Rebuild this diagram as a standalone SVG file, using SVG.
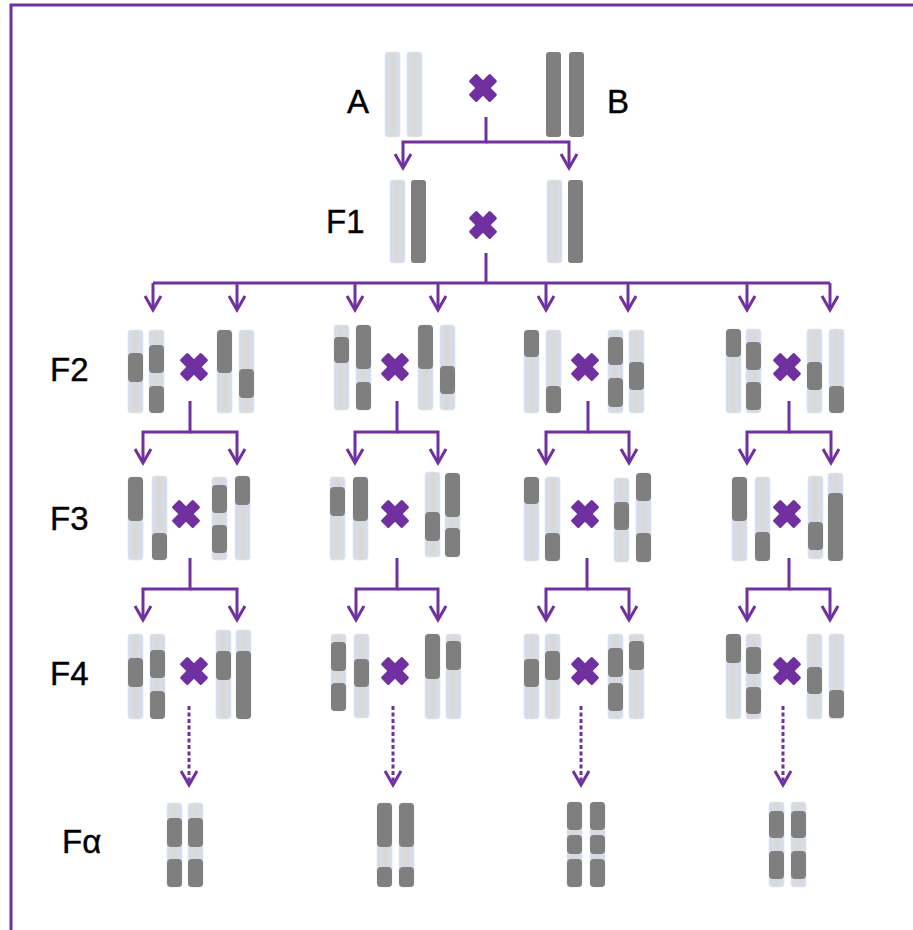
<svg xmlns="http://www.w3.org/2000/svg" width="913" height="930" viewBox="0 0 913 930">
  <defs>
    <linearGradient id="lg" x1="0" y1="0" x2="1" y2="0">
      <stop offset="0" stop-color="#cfdbf2"/>
      <stop offset="0.25" stop-color="#d8dce4"/>
      <stop offset="0.35" stop-color="#d9d9d9"/>
      <stop offset="0.65" stop-color="#d9d9d9"/>
      <stop offset="0.75" stop-color="#d8dce4"/>
      <stop offset="1" stop-color="#cfdbf2"/>
    </linearGradient>
    <marker id="ah" markerUnits="userSpaceOnUse" markerWidth="24" markerHeight="24" viewBox="-18 -12 24 24" refX="0" refY="0" orient="auto">
      <path d="M-14,-8 L0,0 L-14,8" fill="none" stroke="#7030a0" stroke-width="3" stroke-dasharray="none"/>
    </marker>
    <g id="x">
      <rect x="-15" y="-5.5" width="30" height="11" rx="1.5" transform="rotate(45)"/>
      <rect x="-15" y="-5.5" width="30" height="11" rx="1.5" transform="rotate(-45)"/>
    </g>
  </defs>
  <style>
    .c { fill: url(#lg); stroke: #e3e7ee; stroke-width: 0.8; }
    .d { fill: #7f7f7f; }
    .cr { fill: #7030a0; }
    .ln { fill: none; stroke: #7030a0; stroke-width: 3; marker-end: url(#ah); }
    .ln0 { fill: none; stroke: #7030a0; stroke-width: 3; }
    .dt { fill: none; stroke: #7030a0; stroke-width: 3; stroke-dasharray: 4 2.5; marker-end: url(#ah); }
    .lb { font-family: "Liberation Sans", Arial, sans-serif; font-size: 33px; fill: #000; stroke: #000; stroke-width: 0.4; }
  </style>

  <!-- frame -->
  <rect x="11" y="5" width="930" height="950" fill="none" stroke="#7030a0" stroke-width="3"/>

  <!-- generation labels -->
  <g id="labels">
    <text class="lb" x="347" y="113">A</text>
    <text class="lb" x="607" y="113">B</text>
    <text class="lb" x="326" y="233">F1</text>
    <text class="lb" x="50" y="381">F2</text>
    <text class="lb" x="50" y="530">F3</text>
    <text class="lb" x="50" y="685">F4</text>
    <text class="lb" x="62" y="853">Fα</text>
  </g>

  <!-- parents -->
  <g id="parentA">
    <rect class="c" x="385" y="52" width="15" height="85" rx="3"/>
    <rect class="c" x="407" y="52" width="15" height="85" rx="3"/>
  </g>
  <g id="parentB">
    <rect class="d" x="546" y="52" width="15" height="85" rx="3"/>
    <rect class="d" x="569" y="52" width="15" height="85" rx="3"/>
  </g>
  <use href="#x" class="cr" x="483" y="88"/>

  <!-- F1 -->
  <g id="f1">
    <rect class="c" x="390" y="180" width="15" height="83" rx="3"/>
    <rect class="d" x="411" y="180" width="15" height="83" rx="3"/>
    <rect class="c" x="547" y="180" width="15" height="83" rx="3"/>
    <rect class="d" x="568" y="180" width="15" height="83" rx="3"/>
    <use href="#x" class="cr" x="483" y="225"/>
  </g>

  <!-- F2 -->
  <g id="f2-1">
    <rect class="c" x="128" y="330" width="15" height="83" rx="3"/>
    <rect class="d" x="128" y="353" width="15" height="29" rx="4"/>
    <rect class="c" x="149" y="330" width="15" height="83" rx="3"/>
    <rect class="d" x="149" y="345" width="15" height="28" rx="4"/>
    <rect class="d" x="149" y="386" width="15" height="27" rx="4"/>
    <rect class="c" x="217" y="330" width="15" height="83" rx="3"/>
    <rect class="d" x="217" y="330" width="15" height="43" rx="4"/>
    <rect class="c" x="239" y="330" width="15" height="83" rx="3"/>
    <rect class="d" x="239" y="369" width="15" height="29" rx="4"/>
    <use href="#x" class="cr" x="194" y="367"/>
  </g>
  <g id="f2-2">
    <rect class="c" x="334" y="325" width="15" height="85" rx="3"/>
    <rect class="d" x="334" y="337" width="15" height="26" rx="4"/>
    <rect class="c" x="356" y="325" width="15" height="85" rx="3"/>
    <rect class="d" x="356" y="325" width="15" height="44" rx="4"/>
    <rect class="d" x="356" y="382" width="15" height="28" rx="4"/>
    <rect class="c" x="418" y="325" width="15" height="85" rx="3"/>
    <rect class="d" x="418" y="325" width="15" height="44" rx="4"/>
    <rect class="c" x="440" y="325" width="15" height="85" rx="3"/>
    <rect class="d" x="440" y="366" width="15" height="28" rx="4"/>
    <use href="#x" class="cr" x="395" y="367"/>
  </g>
  <g id="f2-3">
    <rect class="c" x="524" y="330" width="15" height="83" rx="3"/>
    <rect class="d" x="524" y="330" width="15" height="27" rx="4"/>
    <rect class="c" x="546" y="330" width="15" height="83" rx="3"/>
    <rect class="d" x="546" y="386" width="15" height="27" rx="4"/>
    <rect class="c" x="608" y="330" width="15" height="83" rx="3"/>
    <rect class="d" x="608" y="337" width="15" height="28" rx="4"/>
    <rect class="d" x="608" y="378" width="15" height="29" rx="4"/>
    <rect class="c" x="629" y="330" width="15" height="83" rx="3"/>
    <rect class="d" x="629" y="362" width="15" height="28" rx="4"/>
    <use href="#x" class="cr" x="585" y="367"/>
  </g>
  <g id="f2-4">
    <rect class="c" x="726" y="329" width="15" height="84" rx="3"/>
    <rect class="d" x="726" y="329" width="15" height="28" rx="4"/>
    <rect class="c" x="746" y="329" width="15" height="84" rx="3"/>
    <rect class="d" x="746" y="342" width="15" height="28" rx="4"/>
    <rect class="d" x="746" y="382" width="15" height="28" rx="4"/>
    <rect class="c" x="807" y="329" width="15" height="84" rx="3"/>
    <rect class="d" x="807" y="362" width="15" height="28" rx="4"/>
    <rect class="c" x="829" y="329" width="15" height="84" rx="3"/>
    <rect class="d" x="829" y="386" width="15" height="27" rx="4"/>
    <use href="#x" class="cr" x="787" y="367"/>
  </g>

  <!-- F3 -->
  <g id="f3-1">
    <rect class="c" x="128" y="477" width="15" height="83" rx="3"/>
    <rect class="d" x="128" y="477" width="15" height="44" rx="4"/>
    <rect class="c" x="152" y="476" width="15" height="84" rx="3"/>
    <rect class="d" x="152" y="533" width="15" height="27" rx="4"/>
    <rect class="c" x="212" y="477" width="15" height="83" rx="3"/>
    <rect class="d" x="212" y="485" width="15" height="28" rx="4"/>
    <rect class="d" x="212" y="525" width="15" height="28" rx="4"/>
    <rect class="c" x="235" y="476" width="15" height="84" rx="3"/>
    <rect class="d" x="235" y="476" width="15" height="29" rx="4"/>
    <use href="#x" class="cr" x="186" y="514"/>
  </g>
  <g id="f3-2">
    <rect class="c" x="330" y="477" width="15" height="83" rx="3"/>
    <rect class="d" x="330" y="487" width="15" height="29" rx="4"/>
    <rect class="c" x="353" y="477" width="15" height="83" rx="3"/>
    <rect class="d" x="353" y="477" width="15" height="44" rx="4"/>
    <rect class="c" x="425" y="472" width="15" height="85" rx="3"/>
    <rect class="d" x="425" y="512" width="15" height="29" rx="4"/>
    <rect class="c" x="445" y="473" width="15" height="84" rx="3"/>
    <rect class="d" x="445" y="473" width="15" height="44" rx="4"/>
    <rect class="d" x="445" y="528" width="15" height="29" rx="4"/>
    <use href="#x" class="cr" x="395" y="514"/>
  </g>
  <g id="f3-3">
    <rect class="c" x="524" y="477" width="15" height="84" rx="3"/>
    <rect class="d" x="524" y="477" width="15" height="27" rx="4"/>
    <rect class="c" x="545" y="477" width="15" height="84" rx="3"/>
    <rect class="d" x="545" y="533" width="15" height="28" rx="4"/>
    <rect class="c" x="614" y="478" width="15" height="84" rx="3"/>
    <rect class="d" x="614" y="502" width="15" height="28" rx="4"/>
    <rect class="c" x="636" y="473" width="15" height="89" rx="3"/>
    <rect class="d" x="636" y="473" width="15" height="28" rx="4"/>
    <rect class="d" x="636" y="533" width="15" height="29" rx="4"/>
    <use href="#x" class="cr" x="585" y="514"/>
  </g>
  <g id="f3-4">
    <rect class="c" x="732" y="477" width="15" height="84" rx="3"/>
    <rect class="d" x="732" y="477" width="15" height="44" rx="4"/>
    <rect class="c" x="755" y="477" width="15" height="84" rx="3"/>
    <rect class="d" x="755" y="532" width="15" height="29" rx="4"/>
    <rect class="c" x="808" y="476" width="15" height="83" rx="3"/>
    <rect class="d" x="808" y="522" width="15" height="28" rx="4"/>
    <rect class="c" x="828" y="473" width="15" height="88" rx="3"/>
    <rect class="d" x="828" y="493" width="15" height="68" rx="4"/>
    <use href="#x" class="cr" x="787" y="514"/>
  </g>

  <!-- F4 -->
  <g id="f4-1">
    <rect class="c" x="128" y="634" width="15" height="85" rx="3"/>
    <rect class="d" x="128" y="658" width="15" height="29" rx="4"/>
    <rect class="c" x="150" y="634" width="15" height="85" rx="3"/>
    <rect class="d" x="150" y="650" width="15" height="28" rx="4"/>
    <rect class="d" x="150" y="691" width="15" height="28" rx="4"/>
    <rect class="c" x="216" y="630" width="15" height="89" rx="3"/>
    <rect class="d" x="216" y="651" width="15" height="29" rx="4"/>
    <rect class="c" x="236" y="630" width="15" height="89" rx="3"/>
    <rect class="d" x="236" y="651" width="15" height="68" rx="4"/>
    <use href="#x" class="cr" x="194" y="671"/>
  </g>
  <g id="f4-2">
    <rect class="c" x="331" y="634" width="15" height="77" rx="3"/>
    <rect class="d" x="331" y="642" width="15" height="29" rx="4"/>
    <rect class="d" x="331" y="683" width="15" height="28" rx="4"/>
    <rect class="c" x="354" y="634" width="15" height="84" rx="3"/>
    <rect class="d" x="354" y="659" width="15" height="28" rx="4"/>
    <rect class="c" x="425" y="634" width="15" height="85" rx="3"/>
    <rect class="d" x="425" y="634" width="15" height="45" rx="4"/>
    <rect class="c" x="446" y="634" width="15" height="85" rx="3"/>
    <rect class="d" x="446" y="641" width="15" height="29" rx="4"/>
    <use href="#x" class="cr" x="395" y="671"/>
  </g>
  <g id="f4-3">
    <rect class="c" x="524" y="634" width="15" height="85" rx="3"/>
    <rect class="d" x="524" y="659" width="15" height="28" rx="4"/>
    <rect class="c" x="545" y="634" width="15" height="85" rx="3"/>
    <rect class="d" x="545" y="651" width="15" height="29" rx="4"/>
    <rect class="c" x="608" y="634" width="15" height="85" rx="3"/>
    <rect class="d" x="608" y="648" width="15" height="29" rx="4"/>
    <rect class="d" x="608" y="683" width="15" height="28" rx="4"/>
    <rect class="c" x="629" y="634" width="15" height="85" rx="3"/>
    <rect class="d" x="629" y="641" width="15" height="29" rx="4"/>
    <use href="#x" class="cr" x="585" y="671"/>
  </g>
  <g id="f4-4">
    <rect class="c" x="726" y="634" width="15" height="85" rx="3"/>
    <rect class="d" x="726" y="634" width="15" height="29" rx="4"/>
    <rect class="c" x="746" y="634" width="15" height="85" rx="3"/>
    <rect class="d" x="746" y="647" width="15" height="27" rx="4"/>
    <rect class="d" x="746" y="687" width="15" height="27" rx="4"/>
    <rect class="c" x="807" y="634" width="15" height="85" rx="3"/>
    <rect class="d" x="807" y="667" width="15" height="27" rx="4"/>
    <rect class="c" x="829" y="634" width="15" height="85" rx="3"/>
    <rect class="d" x="829" y="690" width="15" height="28" rx="4"/>
    <use href="#x" class="cr" x="787" y="671"/>
  </g>

  <!-- F-alpha (homozygous lines) -->
  <g id="fa-1">
    <rect class="c" x="167" y="803" width="15" height="84" rx="3"/>
    <rect class="d" x="167" y="818" width="15" height="29" rx="4"/>
    <rect class="d" x="167" y="859" width="15" height="28" rx="4"/>
    <rect class="c" x="188" y="803" width="15" height="84" rx="3"/>
    <rect class="d" x="188" y="818" width="15" height="29" rx="4"/>
    <rect class="d" x="188" y="859" width="15" height="28" rx="4"/>
  </g>
  <g id="fa-2">
    <rect class="c" x="377" y="803" width="15" height="84" rx="3"/>
    <rect class="d" x="377" y="803" width="15" height="44" rx="4"/>
    <rect class="d" x="377" y="867" width="15" height="20" rx="4"/>
    <rect class="c" x="399" y="803" width="15" height="84" rx="3"/>
    <rect class="d" x="399" y="803" width="15" height="44" rx="4"/>
    <rect class="d" x="399" y="867" width="15" height="20" rx="4"/>
  </g>
  <g id="fa-3">
    <rect class="c" x="567" y="802" width="15" height="85" rx="3"/>
    <rect class="d" x="567" y="802" width="15" height="28" rx="4"/>
    <rect class="d" x="567" y="835" width="15" height="19" rx="4"/>
    <rect class="d" x="567" y="859" width="15" height="28" rx="4"/>
    <rect class="c" x="590" y="802" width="15" height="85" rx="3"/>
    <rect class="d" x="590" y="802" width="15" height="28" rx="4"/>
    <rect class="d" x="590" y="835" width="15" height="19" rx="4"/>
    <rect class="d" x="590" y="859" width="15" height="28" rx="4"/>
  </g>
  <g id="fa-4">
    <rect class="c" x="769" y="802" width="15" height="85" rx="3"/>
    <rect class="d" x="769" y="811" width="15" height="27" rx="4"/>
    <rect class="d" x="769" y="851" width="15" height="28" rx="4"/>
    <rect class="c" x="791" y="802" width="15" height="85" rx="3"/>
    <rect class="d" x="791" y="811" width="15" height="27" rx="4"/>
    <rect class="d" x="791" y="851" width="15" height="28" rx="4"/>
  </g>

  <!-- connectors -->
  <g id="connectors">
    <!-- P to F1 -->
    <path class="ln" d="M486,117 V142 H403 V168"/>
    <path class="ln" d="M486,142 H569 V168"/>
    <!-- F1 to F2 -->
    <path class="ln0" d="M486,253 V283 M153,283 H830"/>
    <path class="ln" d="M153,283 V310"/>
    <path class="ln" d="M237,283 V310"/>
    <path class="ln" d="M355,283 V310"/>
    <path class="ln" d="M438,283 V310"/>
    <path class="ln" d="M546,283 V310"/>
    <path class="ln" d="M628,283 V310"/>
    <path class="ln" d="M747,283 V310"/>
    <path class="ln" d="M830,283 V310"/>
    <!-- F2 to F3 -->
    <path class="ln" d="M190,401 V432 H143 V463"/>
    <path class="ln" d="M190,432 H237 V463"/>
    <path class="ln" d="M397,401 V432 H355 V463"/>
    <path class="ln" d="M397,432 H438 V463"/>
    <path class="ln" d="M588,401 V432 H546 V463"/>
    <path class="ln" d="M588,432 H629 V463"/>
    <path class="ln" d="M789,401 V432 H747 V463"/>
    <path class="ln" d="M789,432 H831 V463"/>
    <!-- F3 to F4 -->
    <path class="ln" d="M190,558 V589 H143 V620"/>
    <path class="ln" d="M190,589 H237 V620"/>
    <path class="ln" d="M397,558 V589 H356 V620"/>
    <path class="ln" d="M397,589 H438 V620"/>
    <path class="ln" d="M587,558 V589 H546 V620"/>
    <path class="ln" d="M587,589 H629 V620"/>
    <path class="ln" d="M789,558 V589 H747 V620"/>
    <path class="ln" d="M789,589 H830 V620"/>
    <!-- repeated selfing to F-alpha -->
    <path class="dt" d="M189,706 V785"/>
    <path class="dt" d="M393,706 V785"/>
    <path class="dt" d="M581,706 V785"/>
    <path class="dt" d="M783,706 V785"/>
  </g>
</svg>
